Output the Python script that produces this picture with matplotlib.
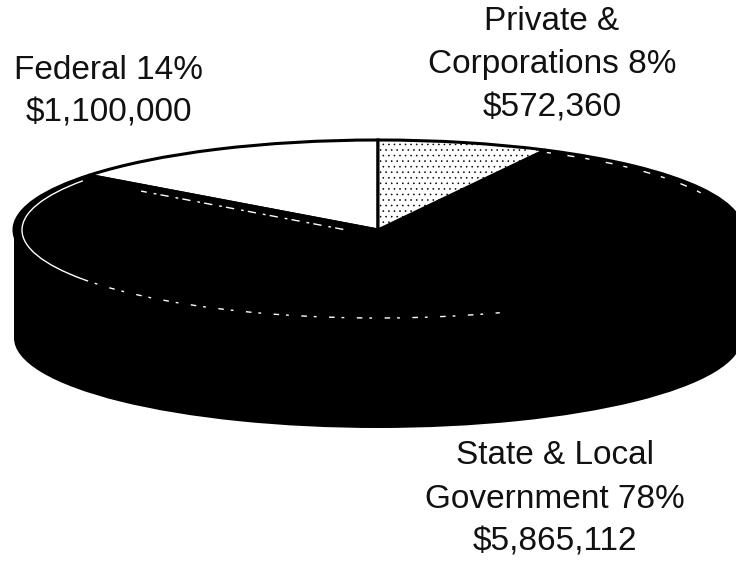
import numpy as np
import matplotlib
matplotlib.use('Agg')
import matplotlib.pyplot as plt
from matplotlib.patches import Arc, Rectangle

sources = ['Federal', 'State & Local Government', 'Private & Corporations']
amounts = [1100000, 5865112, 572360]
captions = ['Federal 14%\n$1,100,000',
            'State & Local\nGovernment 78%\n$5,865,112',
            'Private &\nCorporations 8%\n$572,360']
caption_xy = [(109, 92), (555, 499), (552, 65)]

W, H = 736, 562
SQUASH = 90 / 364   # tilt of the disc
RADIUS = 364
CX, CY = 378, 230   # pixel position of the centre
DEPTH = 108

plt.rcParams['font.family'] = ['Liberation Sans', 'DejaVu Sans']
plt.rcParams['hatch.linewidth'] = 0.4


def py(y):
    # pixel row to stretched data y
    return (H - y) / SQUASH


fig = plt.figure(figsize=(W / 100, H / 100), dpi=100)
ax = fig.add_axes([0, 0, 1, 1])

# side wall of the disc
ax.pie([1], colors=['black'], center=(CX, py(CY + DEPTH)), radius=RADIUS,
       wedgeprops={'linewidth': 0})
ax.add_patch(Rectangle((CX - RADIUS, py(CY + DEPTH)), 2 * RADIUS,
                       py(CY) - py(CY + DEPTH), color='black', lw=0, zorder=1))

# top surface
wedges, _ = ax.pie(amounts, colors=['white', 'black', 'white'], startangle=90,
                   center=(CX, py(CY)), radius=RADIUS,
                   wedgeprops={'edgecolor': 'black', 'linewidth': 2.2})
for w in wedges:
    w.set_zorder(2)
wedges[2].set_hatch('...')

ax.set_aspect('auto')
ax.set_xlim(0, W)
ax.set_ylim(0, H / SQUASH)
ax.axis('off')

# worn white rim: solid round the left end, broken elsewhere
rim = (2 * (RADIUS - 8), 2 * (RADIUS - 8))
ax.add_patch(Arc((CX, py(CY)), *rim, theta1=146, theta2=214,
                 edgecolor='white', lw=1.0, zorder=3))
ax.add_patch(Arc((CX, py(CY)), *rim, theta1=214, theta2=290,
                 edgecolor='white', lw=1.0, zorder=3,
                 linestyle=(0, (4, 5, 2, 9))))
ax.add_patch(Arc((CX, py(CY)), *rim, theta1=25, theta2=68,
                 edgecolor='white', lw=1.0, zorder=3,
                 linestyle=(0, (3, 8, 5, 12))))

# same kind of wear just under the federal slice edge
edge = np.radians(90 + 360 * amounts[0] / sum(amounts))
s = np.array([0.12, 0.82])
ax.plot(CX + RADIUS * s * np.cos(edge),
        py(CY) + RADIUS * s * np.sin(edge) - 6 / SQUASH,
        color='white', lw=1.0, zorder=3, linestyle=(0, (6, 3, 2, 5)))

for text, (x, y) in zip(captions, caption_xy):
    ax.text(x, py(y), text, ha='center', va='center', fontsize=24,
            linespacing=1.5, color='#111111', zorder=5)

fig.savefig('out.png', dpi=100)
